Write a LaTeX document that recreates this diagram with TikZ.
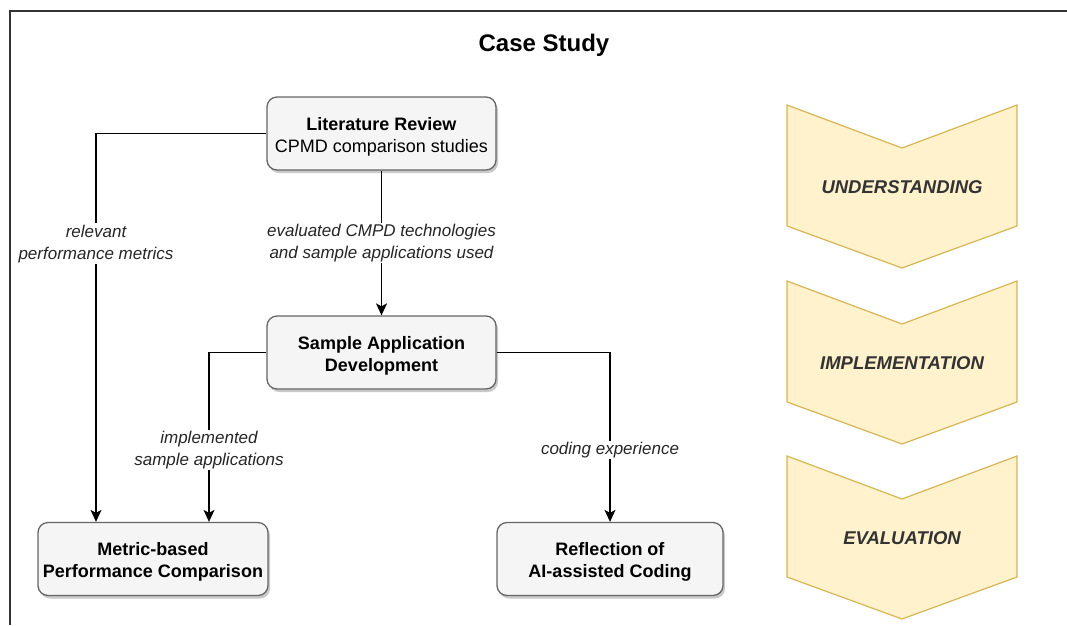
\documentclass[tikz,border=0pt]{standalone}
\usepackage{fontspec}
\setmainfont{Liberation Sans}
\usetikzlibrary{arrows.meta,shadows}
\definecolor{boxfill}{HTML}{F5F5F5}
\definecolor{boxline}{HTML}{666666}
\definecolor{chevfill}{HTML}{FFF2CC}
\definecolor{chevline}{HTML}{D6B656}
\definecolor{chevtext}{HTML}{333333}
\begin{document}
\begin{tikzpicture}[x=1pt,y=-1pt,
 procbox/.style={draw=boxline, fill=boxfill, line width=1.3pt, rounded corners=10pt,
   minimum width=229pt, minimum height=73pt, align=center, inner sep=0pt,
   font=\fontsize{18}{22}\selectfont,
   execute at begin node={\rule{0pt}{41pt}},
   drop shadow={shadow xshift=2pt, shadow yshift=-3pt, opacity=0.35, fill=black!60}},
 flow/.style={draw=black, line width=1.3pt, -{Stealth[length=12pt,width=11pt,inset=3pt]}},
 edgelabel/.style={fill=white, align=center, inner sep=1.5pt, text=black!85,
   font=\fontsize{17}{22}\selectfont\itshape},
 chev/.style={fill=chevfill, draw=chevline, line width=1.2pt, line join=miter},
 chevlabel/.style={font=\fontsize{18.5}{22}\selectfont\bfseries\itshape, text=chevtext},
 frameline/.style={draw=black!80, line width=1.3pt},
]
\useasboundingbox (0,0) rectangle (1067,625);
\fill[white] (0,0) rectangle (1067,625);

% frame
\draw[frameline] (10,625) -- (10,11) -- (1067,11);

% title
\node (title) at (544,45) {\fontsize{24}{28}\selectfont\bfseries Case Study};

% chevrons
\foreach \t/\name/\txt in {105/chevA/UNDERSTANDING, 281/chevB/IMPLEMENTATION, 456/chevC/EVALUATION}{
  \draw[chev] (787,\t) -- (902,\t+43) -- (1017,\t) -- (1017,\t+121) -- (902,\t+163) -- (787,\t+121) -- cycle;
  \node[chevlabel] (\name) at (902,\t+82) {\txt};
}

% boxes
\node[procbox] (lit) at (381.5,133.5) {\textbf{Literature Review}\\CPMD comparison studies};
\node[procbox] (sample) at (381.5,352.5) {\textbf{Sample Application}\\\textbf{Development}};
\node[procbox, minimum width=230pt] (metric) at (153,559) {\textbf{Metric-based}\\\textbf{Performance Comparison}};
\node[procbox, minimum width=226pt] (refl) at (610,559) {\textbf{Reflection of}\\\textbf{AI-assisted Coding}};

% connectors
\draw[flow] (lit.west) -| node[edgelabel, pos=0.642] (l1) {relevant\\performance metrics} ([xshift=-57pt]metric.north);
\draw[flow] (lit.south) -- node[edgelabel, pos=0.5] (l2) {evaluated CMPD technologies\\and sample applications used} (sample.north);
\draw[flow] (sample.west) -| node[edgelabel, pos=0.788] (l3) {implemented\\sample applications} ([xshift=56pt]metric.north);
\draw[flow] (sample.east) -| node[edgelabel, pos=0.788] (l4) {coding experience} (refl.north);
\end{tikzpicture}
\end{document}
